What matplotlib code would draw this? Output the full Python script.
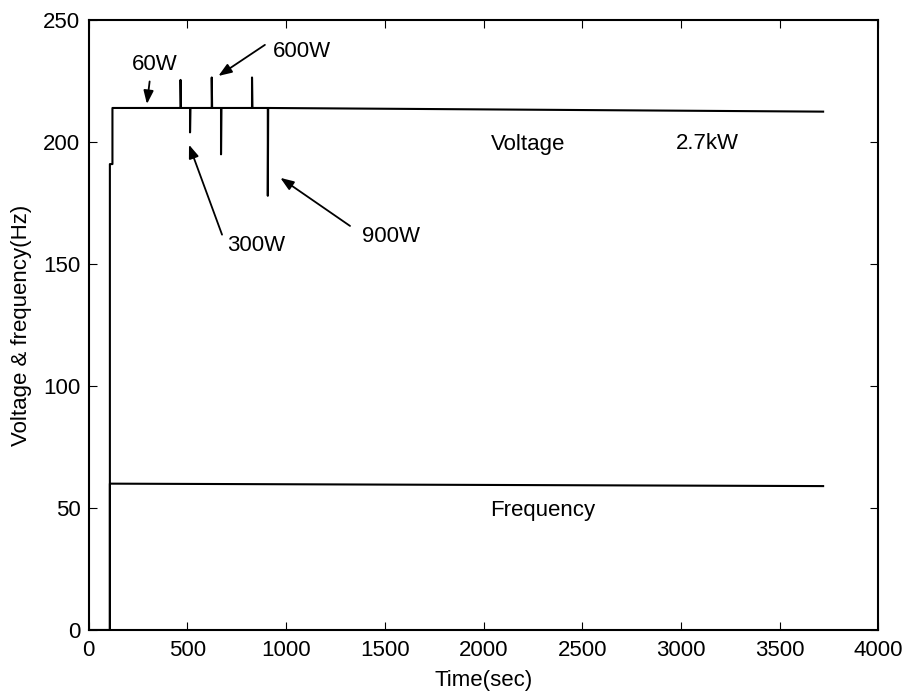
import matplotlib.pyplot as plt
import numpy as np

plt.rcParams["font.family"] = ["Liberation Sans", "DejaVu Sans"]

# voltage trace breakpoints (sec, V)
volt_t = [0, 107, 107, 120, 120, 463, 465, 465, 467, 511, 513, 513, 515,
          621, 623, 623, 625, 668, 670, 670, 672, 825, 827, 827, 829,
          905, 907, 907, 909, 3720]
volt_v = [0, 0, 191, 191, 214, 214, 214, 225.5, 214, 214, 214, 204, 214,
          214, 214, 226.5, 214, 214, 214, 195, 214, 214, 214, 226.5, 214,
          214, 214, 178, 214, 212.5]

# frequency trace (sec, Hz)
freq_t = [0, 107, 107, 3720]
freq_v = [0, 0, 60, 59]

# annotations: label, text pos, arrow tail, arrow head
notes = [
    ("60W", (218, 232), (310, 226), (293, 214.5)),
    ("600W", (934, 237), (904, 240.5), (645, 226.5)),
    ("300W", (700, 157.5), (680, 161), (503, 200)),
    ("900W", (1386, 161.5), (1335, 165), (959, 186)),
]

fs = 16

fig = plt.figure(figsize=(9.15, 6.95), dpi=100)
ax = fig.add_axes([0.097, 0.0935, 0.863, 0.8775])

ax.plot(volt_t, volt_v, color="black", lw=1.5)
ax.plot(freq_t, freq_v, color="black", lw=1.5)

for lab, tp, tail, head in notes:
    ax.text(tp[0], tp[1], lab, fontsize=fs, va="center", ha="left")
    ax.annotate("", xy=head, xytext=tail,
                arrowprops=dict(arrowstyle="-|>,head_length=0.8,head_width=0.3",
                                color="black", lw=1.3))

ax.text(2035, 199, "Voltage", fontsize=fs, va="center")
ax.text(2975, 199.5, "2.7kW", fontsize=fs, va="center")
ax.text(2035, 49, "Frequency", fontsize=fs, va="center")

ax.set_xlim(0, 4000)
ax.set_ylim(0, 250)
ax.set_xticks(np.arange(0, 4001, 500))
ax.set_yticks(np.arange(0, 251, 50))
ax.tick_params(direction="in", top=True, right=True, labelsize=fs, length=6)
ax.tick_params(axis="x", pad=7)
ax.tick_params(axis="y", pad=6)
ax.set_xlabel("Time(sec)", fontsize=fs, labelpad=7)
ax.set_ylabel("Voltage & frequency(Hz)", fontsize=fs, labelpad=8)
for s in ax.spines.values():
    s.set_linewidth(1.5)

fig.savefig("out.png", dpi=100)
